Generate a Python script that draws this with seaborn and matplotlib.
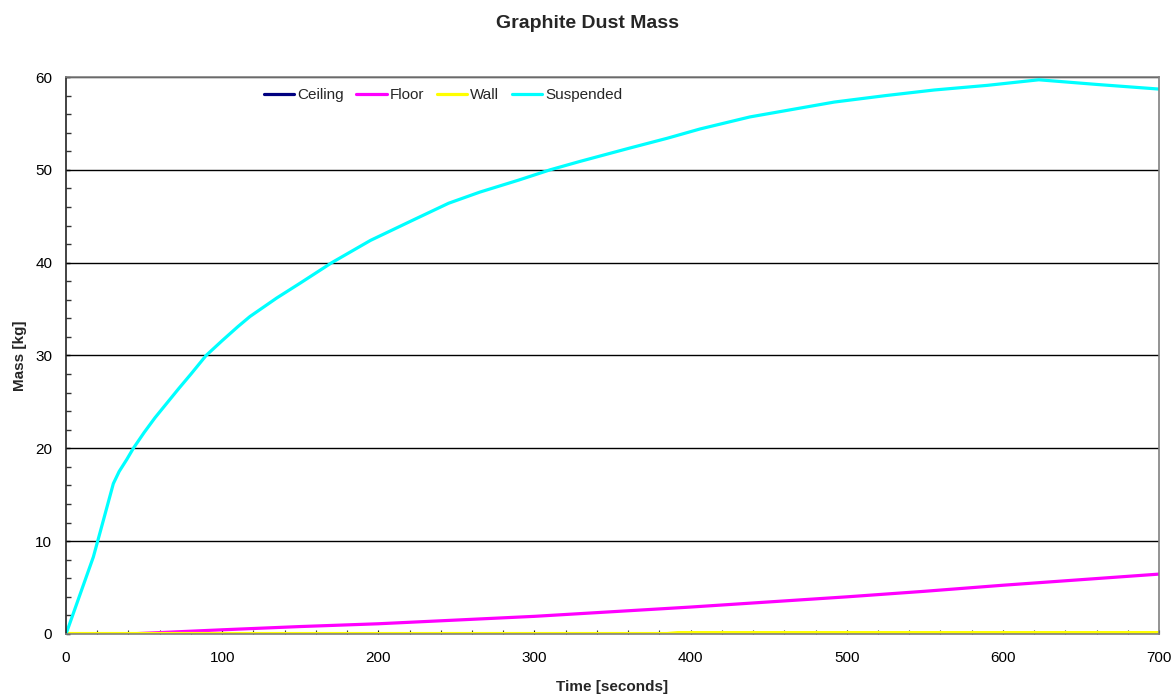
import numpy as np
import pandas as pd
import matplotlib
matplotlib.use("Agg")
import matplotlib.pyplot as plt
from matplotlib.ticker import MultipleLocator
import seaborn as sns

# Time series of graphite dust mass by location
susp_t = [0, 8, 17.5, 24, 30.3, 34, 38.9, 43.1, 50, 57, 64.5, 72, 80, 89.7, 100, 110,
          117.8, 135, 150, 170.2, 195, 222.4, 245, 265, 290, 310, 329, 360, 385,
          406, 438, 465, 492, 525, 556, 590, 623, 660, 700]
susp_m = [0, 3.8, 8.3, 12.3, 16.2, 17.5, 18.8, 20.0, 21.7, 23.3, 24.85, 26.4, 28.0,
          30.0, 31.6, 33.1, 34.2, 36.2, 37.8, 40.0, 42.4, 44.6, 46.4, 47.6, 48.9, 50.0,
          50.9, 52.3, 53.4, 54.4, 55.7, 56.5, 57.3, 58.0, 58.6, 59.1, 59.7, 59.2, 58.7]

floor_t = [0, 40, 60, 100, 150, 200, 250, 300, 350, 400, 450, 500, 550, 600, 650, 700]
floor_m = [0, 0, 0.15, 0.45, 0.8, 1.1, 1.5, 1.9, 2.4, 2.9, 3.45, 4.0, 4.6, 5.25, 5.85, 6.45]

wall_t = [0, 385, 392, 700]
wall_m = [0.05, 0.05, 0.15, 0.15]

ceil_t = [0, 640, 700]
ceil_m = [0, 0, 0]

series = ["Ceiling", "Floor", "Wall", "Suspended"]
colors = ["#000080", "#FF00FF", "#FFFF00", "#00FFFF"]

frames = []
for name, t, m in [("Ceiling", ceil_t, ceil_m), ("Floor", floor_t, floor_m),
                   ("Wall", wall_t, wall_m), ("Suspended", susp_t, susp_m)]:
    frames.append(pd.DataFrame({"Time": t, "Mass": m, "Location": name}))
df = pd.concat(frames, ignore_index=True)

sns.set_theme(style="white")
plt.rcParams["font.family"] = ["Liberation Sans", "DejaVu Sans"]

fig = plt.figure(figsize=(11.75, 6.95), dpi=100)
ax = fig.add_axes([0.0562, 0.0878, 0.9302, 0.8014])

sns.lineplot(data=df, x="Time", y="Mass", hue="Location", hue_order=series,
             palette=colors, linewidth=2.3, ax=ax, estimator=None, sort=False)

ax.set_xlim(0, 700)
ax.set_ylim(0, 60)
ax.xaxis.set_major_locator(MultipleLocator(100))
ax.xaxis.set_minor_locator(MultipleLocator(20))
ax.yaxis.set_major_locator(MultipleLocator(10))
ax.yaxis.set_minor_locator(MultipleLocator(2))

ax.grid(axis="y", which="major", color="black", linewidth=1.0)
ax.set_axisbelow(True)

ax.tick_params(axis="both", which="both", bottom=True, left=True, top=False, right=False)
ax.tick_params(axis="x", which="major", labelsize=11, colors="black",
               length=3, width=0.8, direction="in", pad=12)
ax.tick_params(axis="y", which="major", labelsize=11, colors="black",
               length=3, width=1, direction="in", pad=10)
ax.tick_params(axis="x", which="minor", length=3, width=0.8, direction="in", colors="#333333")
ax.tick_params(axis="y", which="minor", length=3.5, width=1, direction="in", colors="#333333")

for side in ["top", "right", "bottom"]:
    ax.spines[side].set_color("#808080")
    ax.spines[side].set_linewidth(1.2)
ax.spines["left"].set_color("#222222")
ax.spines["left"].set_linewidth(1.2)

ax.set_xlabel("Time [seconds]", fontsize=11, fontweight="bold", labelpad=11)
ax.set_ylabel("Mass [kg]", fontsize=11, fontweight="bold", labelpad=6)
fig.suptitle("Graphite Dust Mass", fontsize=14, fontweight="bold", y=0.978)

ax.legend(loc="upper center", bbox_to_anchor=(0.345, 1.0), ncol=4, frameon=False,
          fontsize=11, handlelength=2.0, handletextpad=0.2, columnspacing=0.8,
          borderaxespad=0.35)
for line in ax.get_legend().get_lines():
    line.set_linewidth(2.3)

fig.savefig("out.png", dpi=100, facecolor="white")
